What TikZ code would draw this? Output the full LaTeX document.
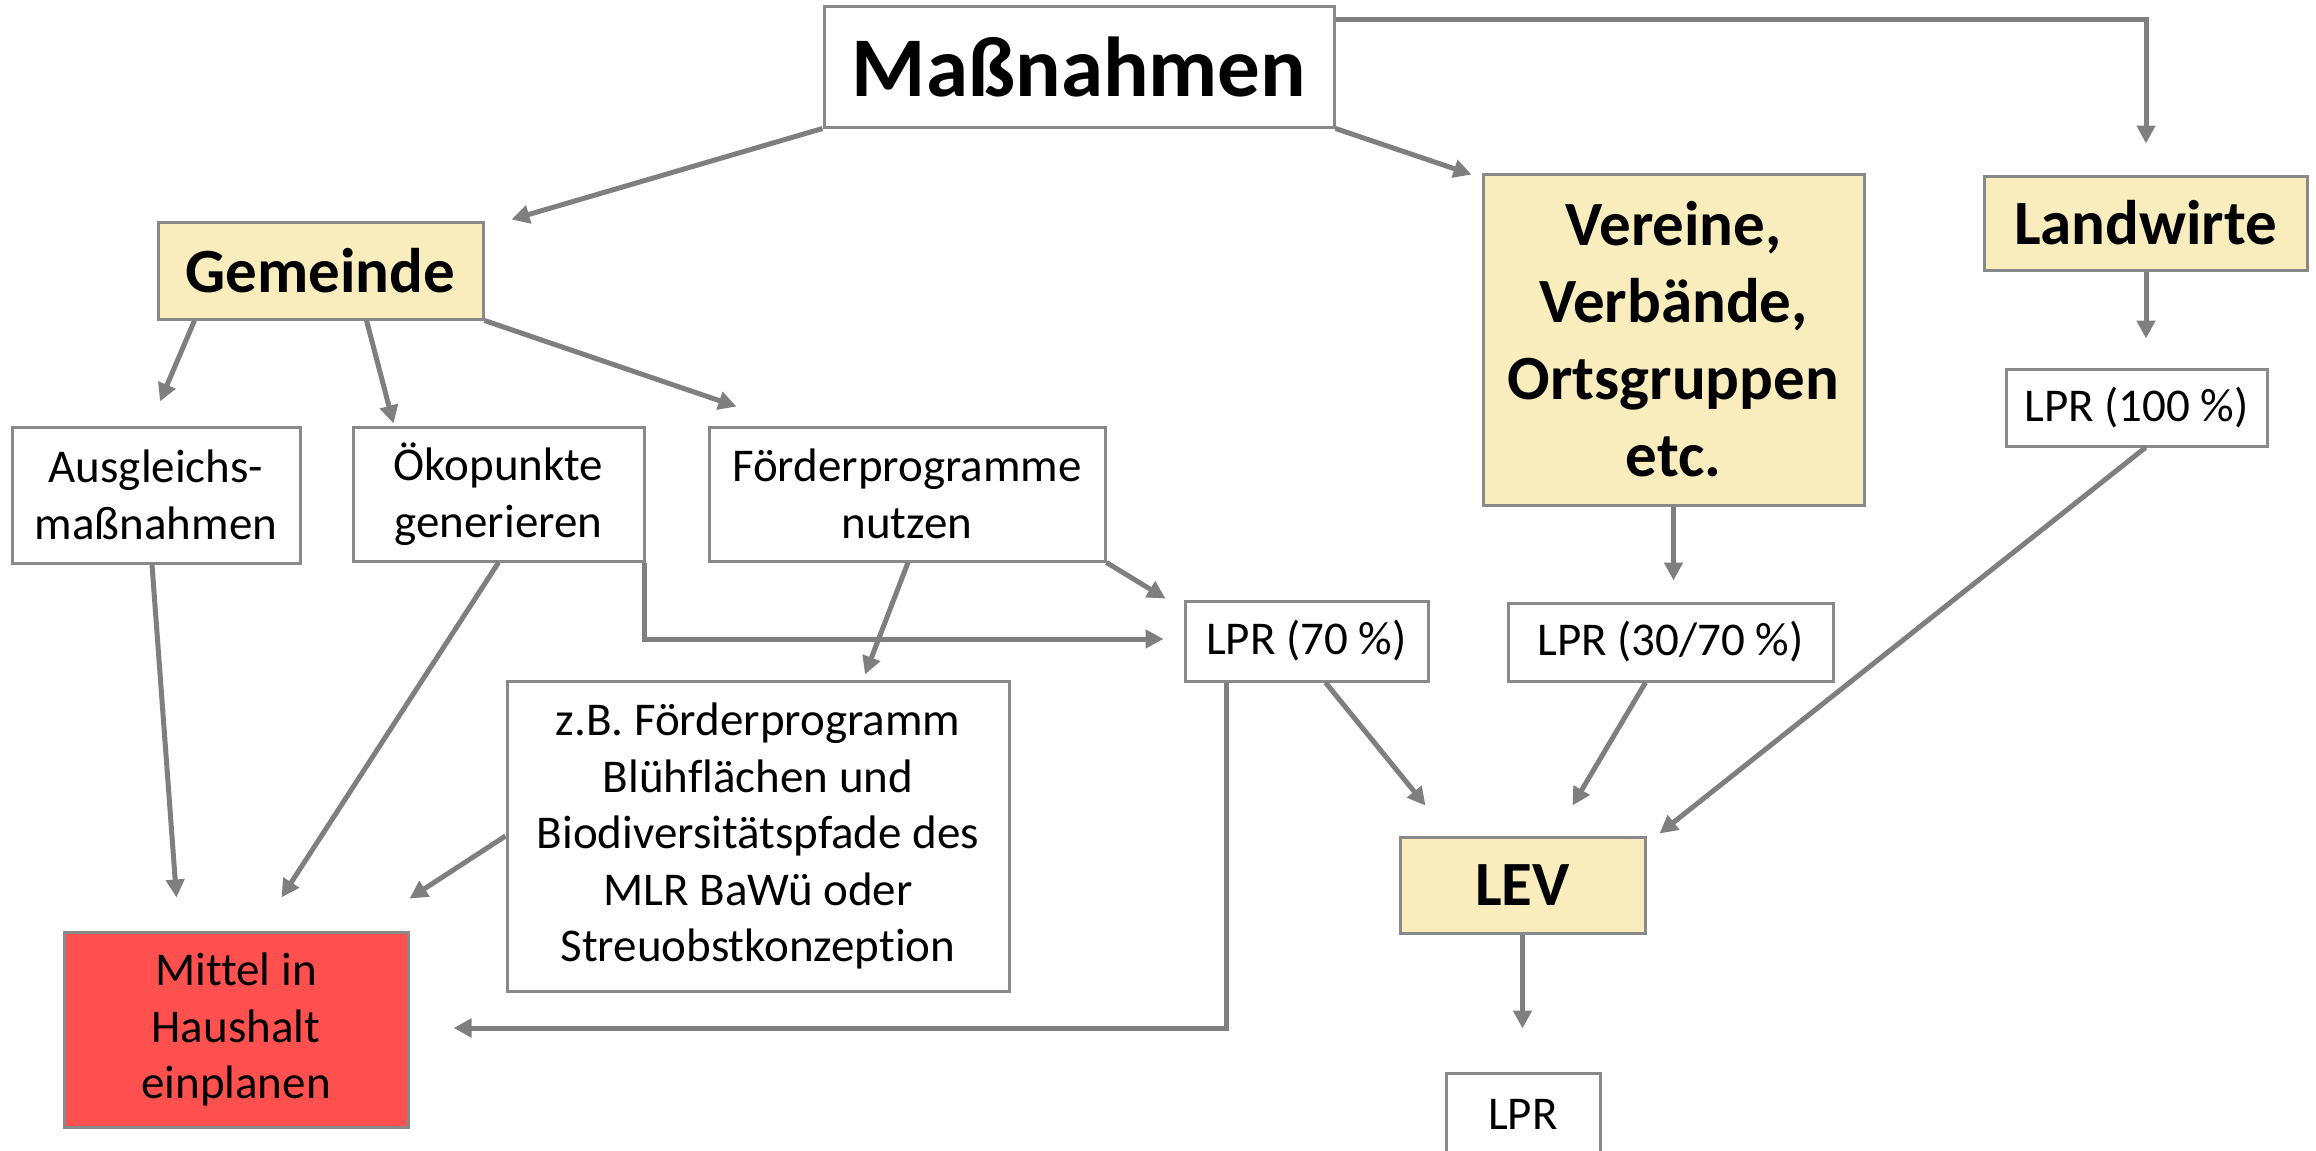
\documentclass[tikz,border=0pt]{standalone}
\usepackage{fontspec}
\setmainfont{Carlito}[Ligatures=NoCommon]
\usetikzlibrary{arrows.meta,calc}
\definecolor{yel}{HTML}{F9EDBE}
\definecolor{redbox}{HTML}{FF5050}
\definecolor{linegray}{HTML}{7F7F7F}
\definecolor{bordergray}{HTML}{898989}
\newcommand\ntxt{\fontsize{47}{56.5}\selectfont}
\newcommand\btxt{\bfseries\fontsize{63}{77}\selectfont}
\newcommand\htxt{\bfseries\fontsize{85}{100}\selectfont}
\tikzset{
  box/.style={draw=bordergray, line width=3pt, fill=white, inner sep=0pt, align=center, font=\ntxt},
  ybox/.style={box, fill=yel, font=\btxt},
  arr/.style={draw=linegray, line width=5pt, -{Triangle[length=18pt,width=18pt]}},
}
\begin{document}
\begin{tikzpicture}[x=1pt,y=-1pt]
\fill[white] (0,0) rectangle (2316,1151);
\useasboundingbox (0,0) rectangle (2316,1151);

\node[box, font=\htxt, minimum width=510pt, minimum height=121pt] (mass) at (1079,66.5) {Maßnahmen};
\node[ybox, minimum width=325pt, minimum height=97pt] (gem) at (320.5,270.5) {Gemeinde};
\node[ybox, minimum width=381pt, minimum height=331pt] (ver) at (1673.5,339.5) {Vereine,\\Verbände,\\Ortsgruppen\\etc.};
\node[ybox, minimum width=323pt, minimum height=94pt] (land) at (2145.5,223) {Landwirte};
\node[box, minimum width=261pt, minimum height=77pt] (lpr100) at (2136.5,407.5) {LPR (100 \%)};
\node[box, minimum width=288pt, minimum height=136pt] (aus) at (156,495) {Ausgleichs-\\maßnahmen};
\node[box, minimum width=291pt, minimum height=134pt] (oko) at (498.5,494) {Ökopunkte\\generieren};
\node[box, minimum width=396pt, minimum height=134pt] (foe) at (907,494) {Förderprogramme\\nutzen};
\node[box, minimum width=243pt, minimum height=80pt] (lpr70) at (1306.5,641) {LPR (70 \%)};
\node[box, minimum width=325pt, minimum height=78pt] (lpr3070) at (1670.5,642) {LPR (30/70 \%)};
\node[box, minimum width=502pt, minimum height=310pt] (zb) at (758,836) {z.B. Förderprogramm\\Blühflächen und\\Biodiversitätspfade des\\MLR BaWü oder\\Streuobstkonzeption};
\node[box, fill=redbox, minimum width=344pt, minimum height=195pt] (mit) at (236,1029.5) {Mittel in\\Haushalt\\einplanen};
\node[ybox, minimum width=245pt, minimum height=96pt] (lev) at (1522.5,885) {LEV};
\node[box, minimum width=154pt, minimum height=82pt] (lpr) at (1523,1114) {LPR};

\draw[arr] (mass.south west) -- ($(gem.north east)+(27,-1)$);
\draw[arr] (mass.south east) -- ($(ver.north west)+(-10,2)$);
\draw[arr] ($(mass.north east)+(0,15)$) -| ($(land.north)+(0.5,-31)$);
\draw[arr] ($(land.south)+(0.5,0)$) -- ($(land.south)+(0.5,67)$);
\draw[arr] (ver.south) -- ($(ver.south)+(0,74)$);
\draw[arr] ($(gem.south west)+(38,0)$) -- ($(aus.north)+(4,-24)$);
\draw[arr] ($(gem.south)+(46,0)$) -- ($(oko.north west)+(42,-2)$);
\draw[arr] (gem.south east) -- ($(foe.north west)+(29,-19)$);
\draw[arr] (foe.south east) -- ($(lpr70.north west)+(-18,-1)$);
\draw[arr] ($(oko.south east)+(-1,0)$) |- ($(lpr70.west)+(-20,-2)$);
\draw[arr] ($(foe.south)+(1,0)$) -- ($(zb.north)+(107,-5)$);
\draw[arr] ($(aus.south)+(-4,0)$) -- ($(mit.north west)+(114,-33)$);
\draw[arr] (oko.south) -- ($(mit.north west)+(219,-33)$);
\draw[arr] (zb.west) -- ($(mit.north east)+(0,-32)$);
\draw[arr] ($(lpr70.south west)+(43,0)$) |- ($(mit.east)+(44,-1.5)$);
\draw[arr] ($(lpr70.south)+(19,0)$) -- ($(lev.north west)+(27,-30)$);
\draw[arr] ($(lpr3070.south)+(-25,0)$) -- ($(lev.north east)+(-74,-30)$);
\draw[arr] ($(lpr100.south)+(9,0)$) -- ($(lev.north east)+(13,-2)$);
\draw[arr] (lev.south) -- ($(lpr.north)+(-0.5,-43)$);
\end{tikzpicture}
\end{document}
